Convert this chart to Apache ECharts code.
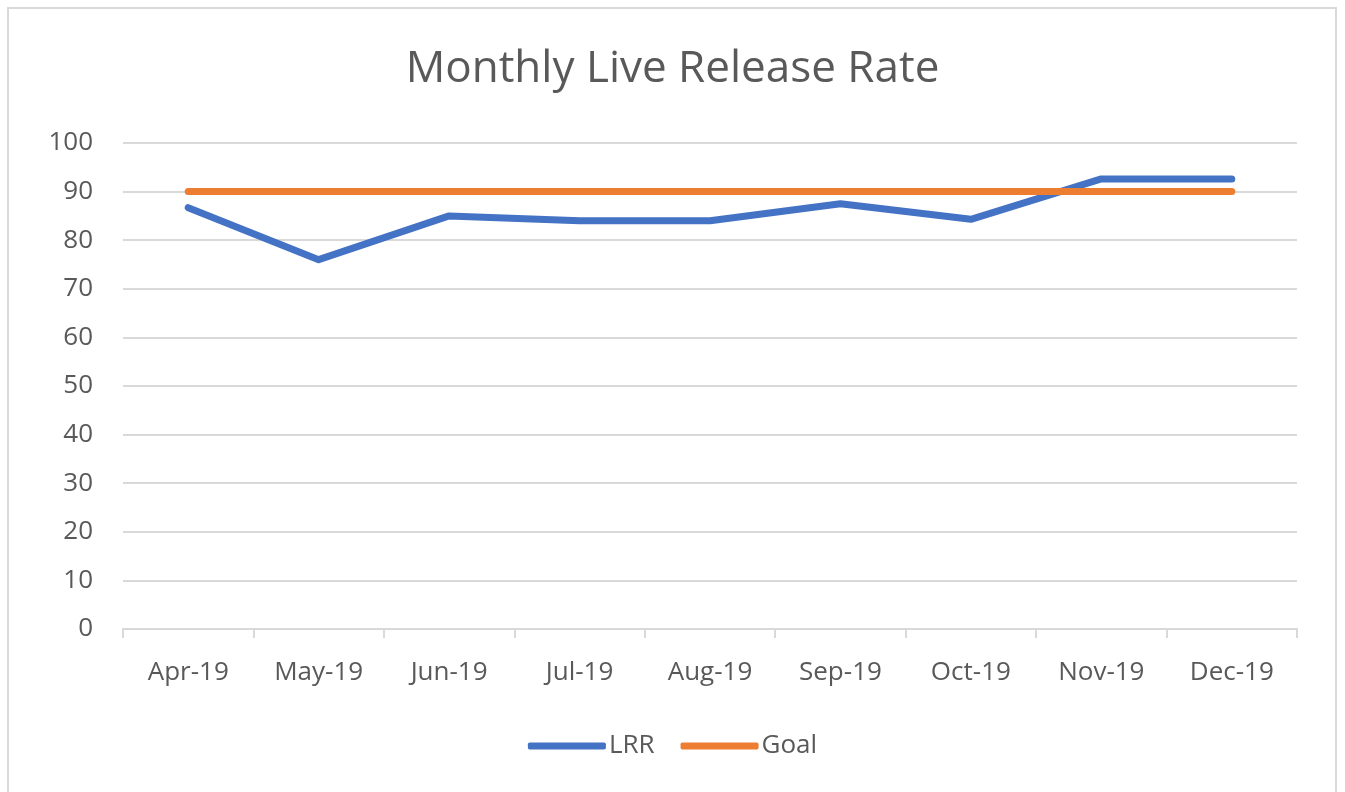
<!DOCTYPE html>
<html>
<head>
<meta charset="utf-8">
<script src="https://cdn.jsdelivr.net/npm/echarts@6/dist/echarts.min.js"></script>
<style>
  html, body { margin: 0; padding: 0; background: #fff; }
  #chart { width: 1345px; height: 792px; }
</style>
</head>
<body>
<div id="chart"></div>
<script>
var months = ["Apr-19", "May-19", "Jun-19", "Jul-19", "Aug-19", "Sep-19", "Oct-19", "Nov-19", "Dec-19"];
var lrr = [86.7, 76, 85, 84, 84, 87.5, 84.3, 92.6, 92.6];
var goal = [90, 90, 90, 90, 90, 90, 90, 90, 90];

var textColor = "#595959";
var lineFont = "Open Sans";

var chart = echarts.init(document.getElementById("chart"));
chart.setOption({
	animation: false,
	backgroundColor: "#fff",
	graphic: [
		{
			type: "rect",
			shape: { x: 8, y: 8, width: 1328, height: 800 },
			style: { fill: "none", stroke: "#d9d9d9", lineWidth: 2 },
			silent: true
		}
	],
	title: {
		text: "Monthly Live Release Rate",
		left: "center",
		top: 42,
		textStyle: { fontFamily: lineFont, fontWeight: "normal", fontSize: 44, color: textColor }
	},
	legend: {
		top: 728,
		left: "center",
		itemWidth: 78,
		itemHeight: 7,
		itemGap: 26,
		icon: "roundRect",
		textStyle: { fontFamily: lineFont, fontSize: 26, color: textColor, padding: [0, 0, 0, -2] },
		data: ["LRR", "Goal"]
	},
	grid: { left: 123, right: 48, top: 143, bottom: 163 },
	xAxis: {
		type: "category",
		data: months,
		boundaryGap: true,
		axisLine: { lineStyle: { color: "#d9d9d9", width: 2 } },
		axisTick: { show: true, length: 9, lineStyle: { color: "#d9d9d9", width: 2 } },
		axisLabel: { fontFamily: lineFont, fontSize: 26, color: textColor, margin: 31 }
	},
	yAxis: {
		type: "value",
		min: 0,
		max: 100,
		interval: 10,
		axisLine: { show: false },
		axisTick: { show: false },
		splitLine: { lineStyle: { color: "#d9d9d9", width: 2 } },
		axisLabel: { fontFamily: lineFont, fontSize: 26, color: textColor, margin: 30 }
	},
	series: [
		{
			name: "LRR",
			type: "line",
			data: lrr,
			symbol: "none",
			color: "#4472c4",
			lineStyle: { width: 7, cap: "round", join: "round" }
		},
		{
			name: "Goal",
			type: "line",
			data: goal,
			symbol: "none",
			color: "#ed7d31",
			lineStyle: { width: 7, cap: "round", join: "round" }
		}
	]
});
</script>
</body>
</html>
